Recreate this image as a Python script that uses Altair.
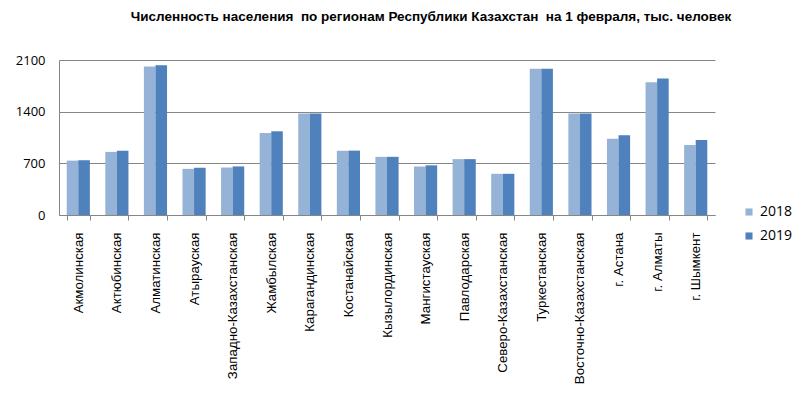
import altair as alt
import pandas as pd

regions = ["Акмолинская", "Актюбинская", "Алматинская", "Атырауская",
           "Западно-Казахстанская", "Жамбылская", "Карагандинская", "Костанайская",
           "Кызылординская", "Мангистауская", "Павлодарская", "Северо-Казахстанская",
           "Туркестанская", "Восточно-Казахстанская", "г. Астана", "г. Алматы", "г. Шымкент"]
v2018 = [737, 855, 2012, 625, 643, 1112, 1375, 872, 788, 657, 757, 558,
         1980, 1375, 1034, 1800, 948]
v2019 = [742, 870, 2030, 640, 658, 1134, 1375, 872, 788, 673, 757, 558,
         1980, 1375, 1080, 1848, 1016]
years = ["2018", "2019"]
y_ticks = [0, 700, 1400, 2100]
title = "Численность населения \u00a0по регионам Республики Казахстан \u00a0на 1 февраля, тыс. человек"

rows = []
for i, r in enumerate(regions):
    rows.append({"region": r, "year": years[0], "value": v2018[i]})
    rows.append({"region": r, "year": years[1], "value": v2019[i]})
df = pd.DataFrame(rows)

chart = alt.Chart(df).mark_bar().encode(
    x=alt.X("region:N", sort=regions, title=None,
            scale=alt.Scale(paddingInner=0.4, paddingOuter=0.2),
            axis=alt.Axis(labelAngle=-90, labelFont="Liberation Sans", labelFontSize=13.3,
                          labelColor="#000000", labelAlign="right", labelBaseline="middle",
                          tickBand="extent", tickSize=5, tickColor="#868686",
                          domainColor="#868686", labelPadding=12, grid=False,
                          labelLimit=200)),
    xOffset=alt.XOffset("year:N", scale=alt.Scale(paddingInner=0, paddingOuter=0)),
    y=alt.Y("value:Q", title=None,
            scale=alt.Scale(domain=[0, 2100], nice=False),
            axis=alt.Axis(values=y_ticks, format="d", labelFont="Open Sans", labelFontSize=13,
                          labelColor="#000000", tickSize=0, labelPadding=14,
                          gridColor="#868686", domainColor="#868686")),
    color=alt.Color("year:N", title=None,
                    scale=alt.Scale(domain=years, range=["#95B3D7", "#4F81BD"]),
                    legend=alt.Legend(orient="none", legendX=683, legendY=145,
                                      symbolType="square", symbolSize=50,
                                      labelFont="Open Sans", labelFontSize=14,
                                      labelColor="#000000", rowPadding=10,
                                      symbolStrokeWidth=0))
).properties(
    width=656, height=155,
    title=alt.Title(title, font="Liberation Sans", fontSize=13.5, fontWeight="bold",
                    color="#000000", dx=44, offset=31),
    autosize=alt.AutoSizeParams(type="none"),
    padding={"left": 51, "top": 52, "right": 77, "bottom": 175}
).configure_view(stroke=None)

chart.save("out.html", embed_options={"renderer": "svg", "actions": False})
